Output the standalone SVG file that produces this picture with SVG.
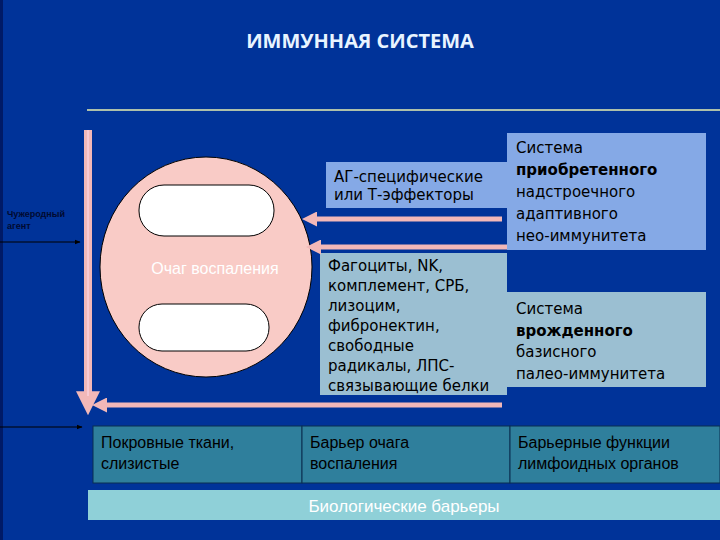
<svg xmlns="http://www.w3.org/2000/svg" width="720" height="540" viewBox="0 0 720 540">
<defs>
<style>
.t{font-family:"DejaVu Sans",sans-serif;font-size:15px;fill:#000}
.a{font-family:"Liberation Sans",Arial,sans-serif;font-size:16px;fill:#000}
.pk{stroke:#f2b8b8;stroke-width:5;fill:none}
</style>
<marker id="ph" viewBox="0 0 10 10" refX="2" refY="5" markerWidth="3" markerHeight="3" orient="auto"><path d="M0,0L10,5L0,10Z" fill="#f2b8b8"/></marker>
<marker id="bk" viewBox="0 0 10 10" refX="9" refY="5" markerWidth="5" markerHeight="5" orient="auto"><path d="M0,1L10,5L0,9Z" fill="#000"/></marker>
</defs>
<rect width="720" height="540" fill="#003399"/>
<rect x="0" y="0" width="3" height="540" fill="#001a66"/>
<text x="360" y="48" text-anchor="middle" font-family="Open Sans,sans-serif" font-size="20" font-weight="bold" fill="#e8f4ff">ИММУННАЯ СИСТЕМА</text>
<line x1="87" y1="110" x2="720" y2="110" stroke="#e8f0b0" stroke-width="1.5"/>
<g id="focus">
<ellipse cx="206" cy="267" rx="106" ry="110" fill="#f9cbc6" stroke="#000" stroke-width="1"/>
<rect x="139" y="185" width="135" height="51" rx="25" fill="#fff" stroke="#000"/>
<rect x="139" y="304" width="130" height="47" rx="23" fill="#fff" stroke="#000"/>
<text x="215" y="274" text-anchor="middle" font-family="Liberation Sans,sans-serif" font-size="16" fill="#fff">Очаг воспаления</text>
</g>
<g id="agent">
<text font-family="Liberation Sans,sans-serif" font-size="9" font-weight="bold" fill="#000a30"><tspan x="7" y="217">Чужеродный</tspan><tspan x="7" y="229">агент</tspan></text>
</g>
<g id="ag"><rect x="326" y="162" width="181" height="46" fill="#85a9e6"/>
<text class="t"><tspan x="334" y="182">АГ-специфические</tspan><tspan x="334" y="200">или Т-эффекторы</tspan></text></g>
<g id="acq"><rect x="507" y="133" width="199" height="117" fill="#85a9e6"/>
<text class="t"><tspan x="516" y="153">Система</tspan><tspan x="516" y="175" font-weight="bold">приобретенного</tspan><tspan x="516" y="197">надстроечного</tspan><tspan x="516" y="219">адаптивного</tspan><tspan x="516" y="241">нео-иммунитета</tspan></text></g>
<g id="phag"><rect x="320" y="253" width="187" height="142" fill="#9bbfd2"/>
<text class="t"><tspan x="328" y="271">Фагоциты, NK,</tspan><tspan x="328" y="291">комплемент, СРБ,</tspan><tspan x="328" y="311">лизоцим,</tspan><tspan x="328" y="331">фибронектин,</tspan><tspan x="328" y="351">свободные</tspan><tspan x="328" y="371">радикалы, ЛПС-</tspan><tspan x="328" y="391">связывающие белки</tspan></text></g>
<g id="inn"><rect x="507" y="292" width="199" height="95" fill="#9bbfd2"/>
<text class="t"><tspan x="516" y="314">Система</tspan><tspan x="516" y="336" font-weight="bold">врожденного</tspan><tspan x="516" y="357">базисного</tspan><tspan x="516" y="379">палео-иммунитета</tspan></text></g>
<g id="b1"><rect x="93" y="426" width="209" height="57" fill="#2f7f9c" stroke="#0a2f50"/><text class="a"><tspan x="101" y="448">Покровные ткани,</tspan><tspan x="101" y="469">слизистые</tspan></text></g>
<g id="b2"><rect x="302" y="426" width="208" height="57" fill="#2f7f9c" stroke="#0a2f50"/><text class="a"><tspan x="310" y="448">Барьер очага</tspan><tspan x="310" y="469">воспаления</tspan></text></g>
<g id="b3"><rect x="510" y="426" width="210" height="57" fill="#2f7f9c" stroke="#0a2f50"/><text class="a"><tspan x="518" y="448">Барьерные функции</tspan><tspan x="518" y="469">лимфоидных органов</tspan></text></g>
<g id="bio"><rect x="88" y="490" width="632" height="30" fill="#8fd0d8"/><text x="404" y="512" text-anchor="middle" font-family="Liberation Sans,sans-serif" font-size="17" fill="#fff">Биологические барьеры</text></g>
<g id="connectors">
<line x1="88" y1="130" x2="88" y2="396" stroke="#f2b8b8" stroke-width="8" marker-end="url(#ph)"/>
<line x1="88" y1="130" x2="88" y2="396" stroke="#fde" stroke-width="1"/>
<line class="pk" x1="502" y1="219" x2="314" y2="219" marker-end="url(#ph)"/>
<line class="pk" x1="507" y1="247" x2="318" y2="247" marker-end="url(#ph)"/>
<line class="pk" x1="502" y1="405" x2="104" y2="405" marker-end="url(#ph)"/>
<line x1="0" y1="242" x2="80" y2="242" stroke="#000" stroke-width="1.2" marker-end="url(#bk)"/>
<line x1="0" y1="427" x2="82" y2="427" stroke="#000" stroke-width="1.2" marker-end="url(#bk)"/>
</g>
</svg>
